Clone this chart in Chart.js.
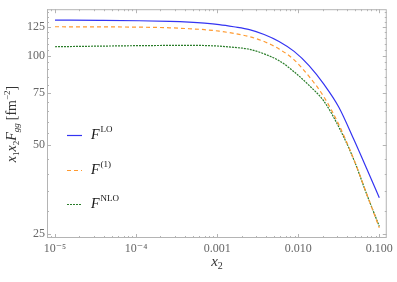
<!DOCTYPE html>
<html>
<head>
<meta charset="utf-8">
<script src="https://cdn.jsdelivr.net/npm/chart.js@4.4.0/dist/chart.umd.min.js"></script>
<style>
  html, body { margin: 0; padding: 0; background: #fff; }
  #wrap { width: 397px; height: 282px; }
</style>
</head>
<body>
<div id="wrap"><canvas id="chart" width="397" height="282"></canvas></div>
<script>
// x2 sample points
const x2Values = [1e-5, 3.6e-5, 1.1e-4, 2.6e-4, 4.5e-4, 7e-4, 1.06e-3, 1.6e-3, 2.5e-3, 3.8e-3,
                  5.8e-3, 8.9e-3, 0.0136, 0.0208, 0.0317, 0.0484, 0.07, 0.1];

// x1 x2 F_gg in fm^-2
const loValues  = [131.9, 131.7, 131.3, 130.6, 129.8, 128.8, 127.4, 125.3, 122.6, 118.0,
                   111.8, 103.5, 92.7, 80.1, 67.1, 52.3, 41.6, 33.2];
const oneValues = [125.3, 125.2, 124.9, 124.3, 123.4, 122.5, 121.1, 119.0, 116.0, 111.7,
                   105.5, 96.9, 85.2, 72.6, 58.6, 44.8, 34.2, 26.3];
const nloValues = [107.3, 107.8, 108.2, 108.4, 108.5, 108.3, 107.8, 106.8, 105.2, 101.5,
                   96.3, 88.3, 79.5, 70.2, 57.5, 44.7, 34.1, 26.6];

// tick marks and labels
const xTicks = [1e-5, 1e-4, 1e-3, 1e-2, 1e-1];
const xTickLabels = ['10\u207B\u2075', '10\u207B\u2074', '0.001', '0.010', '0.100'];
const yTicks = [25, 50, 75, 100, 125];

// legend labels: superscripts on F
const legendSup = ['LO', '(1)', 'NLO'];

const SERIF = "'Liberation Serif', 'DejaVu Serif', serif";
Chart.defaults.font.family = SERIF;

// draw a run of text pieces (for sub/superscripts), returns width
function richText(ctx, runs, x, y, measureOnly) {
    let w = 0;
    runs.forEach(r => {
        ctx.font = r.f;
        if (!measureOnly) ctx.fillText(r.t, x + w, y + (r.dy || 0));
        w += ctx.measureText(r.t).width + (r.sp || 0);
    });
    return w;
}

// frame round the plot with inward ticks on all sides
const frameTicks = {
    id: 'frameTicks',
    afterDatasetsDraw(chart) {
        const { ctx, chartArea: a, scales: { x, y } } = chart;
        ctx.save();
        ctx.strokeStyle = '#b4b4b4';
        ctx.lineWidth = 1;
        ctx.strokeRect(a.left + 0.5, a.top + 0.5, a.right - a.left - 1, a.bottom - a.top - 1);

        ctx.beginPath();
        for (let e = -6; e <= 0; e++) {
            for (let m = 1; m <= 9; m++) {
                const v = m * Math.pow(10, e);
                if (v < x.min || v > x.max) continue;
                const px = Math.round(x.getPixelForValue(v)) + 0.5;
                const len = m === 1 ? 4 : 2;
                ctx.moveTo(px, a.bottom); ctx.lineTo(px, a.bottom - len);
                ctx.moveTo(px, a.top); ctx.lineTo(px, a.top + len);
            }
        }
        for (let v = 25; v <= 145; v += 5) {
            if (v < y.min || v > y.max) continue;
            const py = Math.round(y.getPixelForValue(v)) + 0.5;
            const len = yTicks.includes(v) ? 4 : 2;
            ctx.moveTo(a.left, py); ctx.lineTo(a.left + len, py);
            ctx.moveTo(a.right, py); ctx.lineTo(a.right - len, py);
        }
        ctx.stroke();
        ctx.restore();
    }
};

// axis titles and the legend inside the plot
const labels = {
    id: 'labels',
    afterDraw(chart) {
        const { ctx } = chart;
        ctx.save();
        ctx.fillStyle = '#333';
        ctx.textBaseline = 'alphabetic';

        // x axis title
        const xRuns = [
            { t: 'x', f: `italic 15px ${SERIF}` },
            { t: '2', f: `10px ${SERIF}`, dy: 3 }
        ];
        const xw = richText(ctx, xRuns, 0, 0, true);
        richText(ctx, xRuns, 217 - xw / 2, 266);

        // y axis title, rotated
        const yRuns = [
            { t: 'x', f: `italic 14px ${SERIF}` },
            { t: '1', f: `9px ${SERIF}`, dy: 3 },
            { t: 'x', f: `italic 14px ${SERIF}` },
            { t: '2', f: `9px ${SERIF}`, dy: 3 },
            { t: 'F', f: `italic 14px ${SERIF}` },
            { t: 'gg', f: `italic 9px ${SERIF}`, dy: 3, sp: 3 },
            { t: '[fm', f: `14px ${SERIF}` },
            { t: '\u22122', f: `9px ${SERIF}`, dy: -6 },
            { t: ']', f: `14px ${SERIF}` }
        ];
        ctx.translate(16, 124);
        ctx.rotate(-Math.PI / 2);
        const yw = richText(ctx, yRuns, 0, 0, true);
        richText(ctx, yRuns, -yw / 2, 0);
        ctx.setTransform(1, 0, 0, 1, 0, 0);

        // legend
        const rows = [135, 170, 204];
        chart.data.datasets.forEach((ds, i) => {
            const ly = rows[i] + 0.5;
            ctx.beginPath();
            ctx.strokeStyle = ds.borderColor;
            ctx.lineWidth = ds.borderWidth;
            ctx.setLineDash(ds.borderDash || []);
            ctx.moveTo(67, ly);
            ctx.lineTo(82, ly);
            ctx.stroke();
            ctx.setLineDash([]);
            ctx.fillStyle = '#111';
            richText(ctx, [
                { t: 'F', f: `italic 14px ${SERIF}`, sp: 1 },
                { t: legendSup[i], f: `9px ${SERIF}`, dy: -7 }
            ], 91, rows[i] + 4);
        });
        ctx.restore();
    }
};

const toPoints = vals => x2Values.map((v, i) => ({ x: v, y: vals[i] }));

new Chart(document.getElementById('chart').getContext('2d'), {
    type: 'line',
    data: {
        datasets: [
            {
                label: 'F LO',
                data: toPoints(loValues),
                borderColor: '#3434f2',
                borderWidth: 1.2,
                pointRadius: 0,
                cubicInterpolationMode: 'monotone'
            },
            {
                label: 'F (1)',
                data: toPoints(oneValues),
                borderColor: '#ff9a30',
                borderWidth: 1.2,
                borderDash: [4, 3],
                pointRadius: 0,
                cubicInterpolationMode: 'monotone'
            },
            {
                label: 'F NLO',
                data: toPoints(nloValues),
                borderColor: '#2a7d2a',
                borderWidth: 1.2,
                borderDash: [2, 1],
                pointRadius: 0,
                cubicInterpolationMode: 'monotone'
            }
        ]
    },
    options: {
        responsive: false,
        animation: false,
        devicePixelRatio: 1,
        layout: { padding: { top: 2, right: 9, left: 0, bottom: 0 } },
        plugins: {
            legend: { display: false },
            tooltip: { enabled: false }
        },
        scales: {
            x: {
                type: 'logarithmic',
                min: 7.97e-6,
                max: 0.1236,
                afterBuildTicks: scale => { scale.ticks = xTicks.map(v => ({ value: v })); },
                afterFit: scale => { scale.height = 44; },
                grid: { display: false, drawTicks: false },
                border: { display: false },
                ticks: {
                    autoSkip: false,
                    maxRotation: 0,
                    padding: 4,
                    color: '#666',
                    font: { size: 12, family: SERIF },
                    callback: (v, i) => xTickLabels[i]
                }
            },
            y: {
                type: 'logarithmic',
                min: 24.3,
                max: 143.6,
                afterBuildTicks: scale => { scale.ticks = yTicks.map(v => ({ value: v })); },
                afterFit: scale => { scale.width = 47; },
                grid: { display: false, drawTicks: false },
                border: { display: false },
                ticks: {
                    autoSkip: false,
                    padding: 2,
                    color: '#666',
                    font: { size: 12, family: SERIF },
                    callback: v => String(v)
                }
            }
        }
    },
    plugins: [frameTicks, labels]
});
</script>
</body>
</html>
